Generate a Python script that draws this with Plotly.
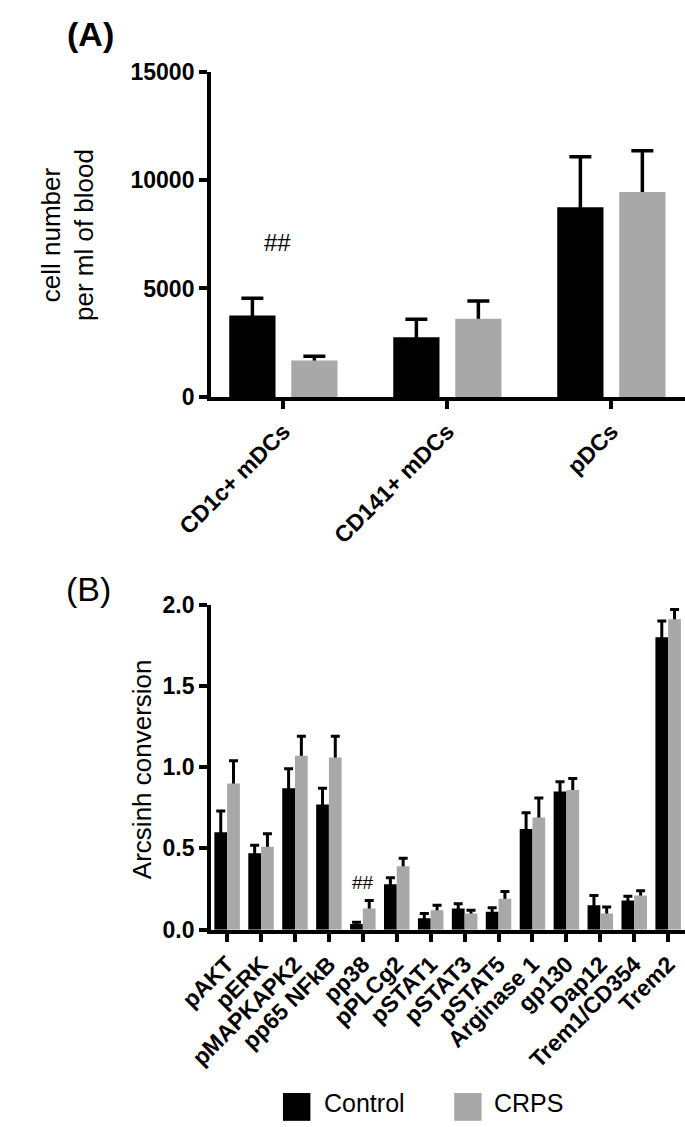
import plotly.graph_objects as go

W, H = 685, 1127

# ---------------- Data ----------------
cells = ["CD1c+ mDCs", "CD141+ mDCs", "pDCs"]
cells_control = [3750, 2750, 8750]
cells_control_err = [800, 830, 2330]
cells_crps = [1680, 3600, 9450]
cells_crps_err = [200, 820, 1900]

markers = ["pAKT", "pERK", "pMAPKAPK2", "pp65 NFkB", "pp38", "pPLCg2", "pSTAT1",
           "pSTAT3", "pSTAT5", "Arginase 1", "gp130", "Dap12", "Trem1/CD354", "Trem2"]
markers_control = [0.60, 0.47, 0.87, 0.77, 0.035, 0.28, 0.07, 0.13, 0.11, 0.62, 0.85, 0.15, 0.18, 1.80]
markers_control_err = [0.13, 0.05, 0.12, 0.10, 0.01, 0.04, 0.03, 0.03, 0.025, 0.10, 0.06, 0.06, 0.025, 0.10]
markers_crps = [0.90, 0.51, 1.07, 1.06, 0.13, 0.39, 0.12, 0.10, 0.19, 0.69, 0.86, 0.10, 0.21, 1.91]
markers_crps_err = [0.14, 0.08, 0.12, 0.13, 0.05, 0.05, 0.03, 0.02, 0.045, 0.12, 0.07, 0.04, 0.03, 0.06]

yticks_a = [0, 5000, 10000, 15000]
yticks_b = [0, 0.5, 1.0, 1.5, 2.0]

BLACK = "#000000"
GRAY = "#a8a8a8"
FONT = "Liberation Sans, Arial, Helvetica, sans-serif"

fig = go.Figure()

wA = 0.282
wB = 0.376
series = [
    # (x, y, err, color, width, offset, xaxis, yaxis, err thickness, cap half-width, name)
    (cells, cells_control, cells_control_err, BLACK, wA, -0.189 - wA / 2, "x", "y", 3.5, 11, "Control"),
    (cells, cells_crps, cells_crps_err, GRAY, wA, 0.189 - wA / 2, "x", "y", 3.5, 11, "CRPS"),
    (markers, markers_control, markers_control_err, BLACK, wB, -wB, "x2", "y2", 3, 4.5, "Control"),
    (markers, markers_crps, markers_crps_err, GRAY, wB, 0.0, "x2", "y2", 3, 4.5, "CRPS"),
]

# Error bars first (carried by transparent bars), so the visible bars drawn afterwards
# hide the lower half: only the upper (mean + SEM) whisker stays visible.
for xs, ys, es, col, w, off, xa, ya, th, cw, nm in series:
    fig.add_trace(go.Bar(x=xs, y=ys, name=nm, width=w, offset=off,
                         marker=dict(color="rgba(0,0,0,0)", line_width=0),
                         error_y=dict(type="data", array=es, symmetric=True, color=BLACK,
                                      thickness=th, width=cw),
                         xaxis=xa, yaxis=ya, showlegend=False, hoverinfo="skip"))
for xs, ys, es, col, w, off, xa, ya, th, cw, nm in series:
    fig.add_trace(go.Bar(x=xs, y=ys, name=nm, width=w, offset=off,
                         marker=dict(color=col, line_width=0),
                         xaxis=xa, yaxis=ya, showlegend=False))

x_left = 184.0 / W
axis_common = dict(showline=True, linewidth=4, linecolor=BLACK, ticks="outside", ticklen=8,
                   tickwidth=3.5, tickcolor=BLACK, showgrid=False, zeroline=False,
                   tickfont=dict(family=FONT, size=23, color=BLACK, weight="bold"))

fig.update_layout(
    width=W, height=H,
    margin=dict(l=0, r=0, t=0, b=0),
    paper_bgcolor="white", plot_bgcolor="white",
    barmode="overlay",
    font=dict(family=FONT, color=BLACK),
    xaxis=dict(domain=[x_left, 1.0], anchor="y", range=[-0.441, 2.449], tickangle=-45, **axis_common),
    yaxis=dict(domain=[1 - 393 / H, 1 - 60 / H], anchor="x", range=[0, 15000],
               tickvals=yticks_a, ticktext=[str(v) for v in yticks_a], **axis_common),
    xaxis2=dict(domain=[x_left, 1.0], anchor="y2", range=[-0.4735, 13.496], tickangle=-45, **axis_common),
    yaxis2=dict(domain=[1 - 938.3 / H, 1 - 605.7 / H], anchor="x2", range=[0, 2.0],
                tickvals=yticks_b, ticktext=["%.1f" % v for v in yticks_b], **axis_common),
)

anns = [
    dict(text="<b>(A)</b>", x=30 / W, y=1.0, xref="paper", yref="paper", xanchor="left", yanchor="top",
         showarrow=False, font=dict(size=34, family=FONT)),
    dict(text="(B)", x=29 / W, y=1 - 568 / H, xref="paper", yref="paper", xanchor="left", yanchor="top",
         showarrow=False, font=dict(size=34, family=FONT)),
    dict(text="cell number<br>per ml of blood", x=32 / W, y=1 - 227 / H, xref="paper", yref="paper",
         xanchor="center", yanchor="middle",
         textangle=-90, showarrow=False, font=dict(size=26, family=FONT)),
    dict(text="Arcsinh conversion", x=111 / W, y=1 - 774 / H, xref="paper", yref="paper",
         xanchor="center", yanchor="middle",
         textangle=-90, showarrow=False, font=dict(size=26, family=FONT)),
    dict(text="##", x=-0.035, y=7100, xref="x", yref="y", showarrow=False,
         xanchor="center", yanchor="middle", font=dict(size=24, family=FONT)),
    dict(text="##", x="pp38", y=0.29, xref="x2", yref="y2", showarrow=False,
         xanchor="center", yanchor="middle", font=dict(size=19, family=FONT)),
    dict(text="Control", x=301 / W, y=1 - 1116 / H, xref="paper", yref="paper", xanchor="left",
         yanchor="middle", showarrow=False, font=dict(size=25, family=FONT)),
    dict(text="CRPS", x=481 / W, y=1 - 1116 / H, xref="paper", yref="paper", xanchor="left",
         yanchor="middle", showarrow=False, font=dict(size=25, family=FONT)),
]
fig.update_layout(annotations=anns)

# Legend swatches
fig.add_shape(type="rect", xref="paper", yref="paper", x0=260 / W, x1=289 / W,
              y0=1 - 1134 / H, y1=1 - 1105.5 / H, fillcolor=BLACK, line_width=0)
fig.add_shape(type="rect", xref="paper", yref="paper", x0=441 / W, x1=470 / W,
              y0=1 - 1134 / H, y1=1 - 1105.5 / H, fillcolor=GRAY, line_width=0)

fig.write_html("out.html", config={"displayModeBar": False},
               post_script="document.body.style.margin='0';document.body.style.overflow='hidden';")
